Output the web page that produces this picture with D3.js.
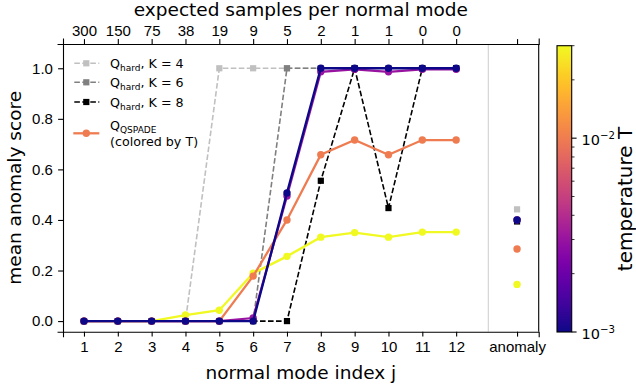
<!DOCTYPE html>
<html>
<head>
<meta charset="utf-8">
<script src="https://cdn.jsdelivr.net/npm/d3@7"></script>
<style>
  body { margin: 0; background: #fff; }
  svg { font-family: "DejaVu Sans", sans-serif; }
  .axis path, .axis line { stroke: #000; stroke-width: 1.1; }
  .axis text { font-size: 15px; fill: #000; }
</style>
</head>
<body>
<svg width="636" height="392"></svg>
<script>
// data
var modes = [1, 2, 3, 4, 5, 6, 7, 8, 9, 10, 11, 12];
var expectedSamples = ["300", "150", "75", "38", "19", "9", "5", "2", "1", "1", "0", "0"];
var anomalyX = 13.8;

var hardK = [4, 6, 8];
var hardColors = ["#c0c0c0", "#808080", "#000000"];
var hardK4 = [0, 0, 0, 0, 1, 1, 1, 1, 1, 1, 1, 1];
var hardK6 = [0, 0, 0, 0, 0, 0, 1, 1, 1, 1, 1, 1];
var hardK8 = [0, 0, 0, 0, 0, 0, 0, 0.555, 1, 0.447, 1, 1];
var hardAnomaly = [0.442, 0.40, 0.394];

var temps = [0.03, 0.01, 0.003, 0.001];
var qT030 = [0, 0, 0, 0.024, 0.043, 0.189, 0.256, 0.332, 0.350, 0.332, 0.352, 0.352];
var qT010 = [0, 0, 0, 0, 0, 0.178, 0.400, 0.658, 0.716, 0.658, 0.716, 0.716];
var qT003 = [0, 0, 0, 0, 0, 0.012, 0.495, 0.986, 0.996, 0.986, 0.996, 0.996];
var qT001 = [0, 0, 0, 0, 0, 0, 0.507, 1, 1, 1, 1, 1];
var qAnomaly = [0.145, 0.285, 0.40, 0.40];

var yTicks = [0, 0.2, 0.4, 0.6, 0.8, 1.0];
var tempRange = [0.001, 0.03];

var svg = d3.select("svg"),
    margin = {top: 44, left: 63, right: 538.7, bottom: 331.7};

var x = d3.scaleLinear().domain([0.38, 14.44]).range([margin.left, margin.right]),
    y = d3.scaleLinear().domain([-0.042, 1.096]).range([margin.bottom, margin.top]);

var tScale = d3.scaleLog().domain(tempRange).range([0, 1]);
function tColor(t) { return d3.interpolatePlasma(tScale(t)); }

var hardSeries = [hardK4, hardK6, hardK8];
var qSeries = [qT030, qT010, qT003, qT001];

// separator between modes and anomaly column
svg.append("line")
    .attr("x1", x(12.95)).attr("x2", x(12.95))
    .attr("y1", margin.top).attr("y2", margin.bottom)
    .attr("stroke", "#cccccc").attr("stroke-width", 1);

var line = d3.line()
    .x(function(d, i) { return x(modes[i]); })
    .y(function(d) { return y(d); });

// hard thresholds (dashed)
hardSeries.forEach(function(s, k) {
  svg.append("path")
      .attr("d", line(s))
      .attr("fill", "none")
      .attr("stroke", hardColors[k])
      .attr("stroke-width", 1.6)
      .attr("stroke-dasharray", "5.6,2.4");
  svg.selectAll(null)
    .data(s.concat([hardAnomaly[k]]))
    .enter().append("rect")
      .attr("x", function(d, i) { return (i < 12 ? x(modes[i]) : x(anomalyX)) - 3.1; })
      .attr("y", function(d) { return y(d) - 3.1; })
      .attr("width", 6.2).attr("height", 6.2)
      .attr("fill", hardColors[k]);
});

// QSPADE curves coloured by temperature
qSeries.forEach(function(s, k) {
  var c = tColor(temps[k]);
  svg.append("path")
      .attr("d", line(s))
      .attr("fill", "none")
      .attr("stroke", c)
      .attr("stroke-width", 2.3);
  svg.selectAll(null)
    .data(s)
    .enter().append("circle")
      .attr("cx", function(d, i) { return x(modes[i]); })
      .attr("cy", function(d) { return y(d); })
      .attr("r", 3.7)
      .attr("fill", c);
});
qAnomaly.forEach(function(v, k) {
  svg.append("circle")
      .attr("cx", x(anomalyX)).attr("cy", y(v))
      .attr("r", 3.7).attr("fill", tColor(temps[k]));
});

// axes
var xTickVals = modes.concat([anomalyX]);
svg.append("g")
    .attr("class", "axis")
    .attr("transform", "translate(0," + margin.bottom + ")")
    .call(d3.axisBottom(x).tickValues(xTickVals).tickSize(4.9).tickPadding(5)
      .tickFormat(function(d, i) { return i < 12 ? modes[i] : "anomaly"; }));

svg.append("g")
    .attr("class", "axis")
    .attr("transform", "translate(0," + margin.top + ")")
    .call(d3.axisTop(x).tickValues(xTickVals).tickSize(4.9).tickPadding(3.6)
      .tickFormat(function(d, i) { return i < 12 ? expectedSamples[i] : ""; }));

svg.append("g")
    .attr("class", "axis")
    .attr("transform", "translate(" + margin.left + ",0)")
    .call(d3.axisLeft(y).tickValues(yTicks).tickSize(4.9).tickPadding(5.2)
      .tickFormat(d3.format(".1f")));

svg.append("line")
    .attr("x1", margin.right).attr("x2", margin.right)
    .attr("y1", margin.top).attr("y2", margin.bottom)
    .attr("stroke", "#000").attr("stroke-width", 1.1);

svg.selectAll(".axis .domain").attr("stroke-linecap", "square");

// axis labels
svg.append("text")
    .attr("x", (margin.left + margin.right) / 2).attr("y", 378.5)
    .attr("text-anchor", "middle").style("font-size", "18.5px")
    .text("normal mode index j");
svg.append("text")
    .attr("x", (margin.left + margin.right) / 2).attr("y", 15.5)
    .attr("text-anchor", "middle").style("font-size", "18.5px")
    .text("expected samples per normal mode");
svg.append("text")
    .attr("transform", "translate(21," + (margin.top + margin.bottom) / 2 + ") rotate(-90)")
    .attr("text-anchor", "middle").style("font-size", "18.5px")
    .text("mean anomaly score");

// legend
var leg = svg.append("g").style("font-size", "12.7px");
var legRows = [63.3, 82.3, 102];
hardK.forEach(function(K, k) {
  var ly = legRows[k];
  leg.append("line")
      .attr("x1", 73.3).attr("x2", 99.3).attr("y1", ly).attr("y2", ly)
      .attr("stroke", hardColors[k]).attr("stroke-width", 1.6)
      .attr("stroke-dasharray", "5.6,2.4").attr("stroke-dashoffset", -1);
  leg.append("rect")
      .attr("x", 86.3 - 3.1).attr("y", ly - 3.1).attr("width", 6.2).attr("height", 6.2)
      .attr("fill", hardColors[k]);
  var t = leg.append("text").attr("x", 110).attr("y", ly + 4.6);
  t.append("tspan").text("Q");
  t.append("tspan").attr("dy", 3).style("font-size", "9px").text("hard");
  t.append("tspan").attr("dy", -3).text(", K = " + K);
});
var qLegColor = tColor(temps[1]);
leg.append("line")
    .attr("x1", 73.3).attr("x2", 99.3).attr("y1", 133.3).attr("y2", 133.3)
    .attr("stroke", qLegColor).attr("stroke-width", 2.3);
leg.append("circle").attr("cx", 86.3).attr("cy", 133.3).attr("r", 3.7).attr("fill", qLegColor);
var qt = leg.append("text").attr("x", 110).attr("y", 129.5);
qt.append("tspan").text("Q");
qt.append("tspan").attr("dy", 3).style("font-size", "9px").text("QSPADE");
leg.append("text").attr("x", 110).attr("y", 145.5).text("(colored by T)");

// colorbar
var cb = {x0: 557, x1: 571.7, top: 45.7, bottom: 332};
var grad = svg.append("defs").append("linearGradient")
    .attr("id", "plasma").attr("x1", 0).attr("x2", 0).attr("y1", 1).attr("y2", 0);
d3.range(0, 1.0001, 0.05).forEach(function(f) {
  grad.append("stop").attr("offset", f).attr("stop-color", d3.interpolatePlasma(f));
});
svg.append("rect")
    .attr("x", cb.x0).attr("y", cb.top)
    .attr("width", cb.x1 - cb.x0).attr("height", cb.bottom - cb.top)
    .attr("fill", "url(#plasma)")
    .attr("stroke", "#000").attr("stroke-width", 1.1);

var cy = d3.scaleLog().domain(tempRange).range([cb.bottom, cb.top]);
var minorT = [0.002, 0.003, 0.004, 0.005, 0.006, 0.007, 0.008, 0.009, 0.02, 0.03];
var majorT = [0.001, 0.01];
svg.selectAll(null).data(minorT).enter().append("line")
    .attr("x1", cb.x1).attr("x2", cb.x1 + 2.8)
    .attr("y1", function(d) { return cy(d); }).attr("y2", function(d) { return cy(d); })
    .attr("stroke", "#000").attr("stroke-width", 0.8);
svg.selectAll(null).data(majorT).enter().append("line")
    .attr("x1", cb.x1).attr("x2", cb.x1 + 4.9)
    .attr("y1", function(d) { return cy(d); }).attr("y2", function(d) { return cy(d); })
    .attr("stroke", "#000").attr("stroke-width", 1.1);
majorT.forEach(function(t) {
  var lab = svg.append("text")
      .attr("x", 581.5).attr("y", cy(t) + 6.7).style("font-size", "14.5px");
  lab.append("tspan").text("10");
  lab.append("tspan").attr("dy", -6).style("font-size", "10.2px")
      .text("\u2212" + Math.round(-Math.log10(t)));
});
svg.append("text")
    .attr("transform", "translate(631.5," + 199 + ") rotate(-90)")
    .attr("text-anchor", "middle").style("font-size", "20px")
    .text("temperature T");
</script>
</body>
</html>
